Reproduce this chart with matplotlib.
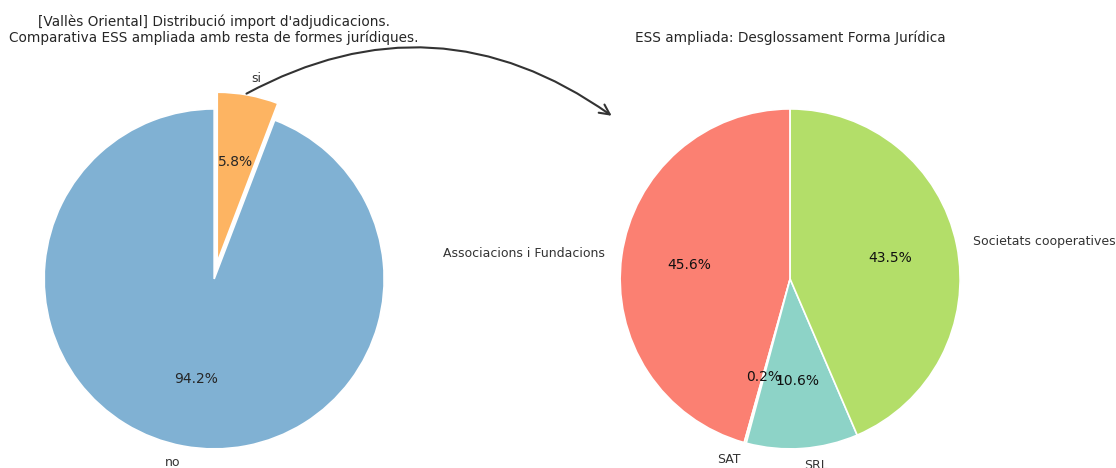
import matplotlib
matplotlib.use('Agg')
import matplotlib.pyplot as plt
from matplotlib.patches import ConnectionPatch

# left pie: ESS ampliada vs rest
ess_labels = ['si', 'no']
ess_values = [5.8, 94.2]
ess_colors = ['#fdb462', '#80b1d3']
ess_explode = [0.1, 0.0]

# right pie: breakdown by legal form
forma_labels = ['Associacions i Fundacions', 'SAT', 'SRL', 'Societats cooperatives']
forma_values = [45.6, 0.2, 10.6, 43.5]
forma_colors = ['#fb8072', '#ffffb3', '#8dd3c7', '#b3de69']

title_left = "[Vallès Oriental] Distribució import d'adjudicacions.\nComparativa ESS ampliada amb resta de formes jurídiques."
title_right = "ESS ampliada: Desglossament Forma Jurídica"

fig = plt.figure(figsize=(11.16, 4.68), dpi=100)
ax1 = fig.add_axes([0.0014, -0.050, 0.381, 0.908])
ax2 = fig.add_axes([0.5175, -0.050, 0.381, 0.908])

wedge_kw = dict(edgecolor='white', linewidth=1.2)
txt_kw = dict(color='#333333', fontsize=9)

_, t1, a1 = ax1.pie(ess_values, labels=ess_labels, colors=ess_colors,
                    explode=ess_explode, autopct='%1.1f%%', startangle=90,
                    counterclock=False, wedgeprops=wedge_kw, textprops=txt_kw)
_, t2, a2 = ax2.pie(forma_values, labels=forma_labels, colors=forma_colors,
                    autopct='%1.1f%%', startangle=90,
                    wedgeprops=wedge_kw, textprops=txt_kw)
for t in list(a1):
    t.set_color('#262626')
    t.set_fontsize(10)
for t in list(a2):
    t.set_color('#111111')
    t.set_fontsize(10)

ax1.set_xlim(-1.25, 1.25)
ax1.set_ylim(-1.25, 1.25)
ax2.set_xlim(-1.25, 1.25)
ax2.set_ylim(-1.25, 1.25)

fig.text(214 / 1116, 1 - 30 / 468, title_left, ha='center', va='center',
         fontsize=9.8, color='#262626', linespacing=1.15)
fig.text(790 / 1116, 1 - 38 / 468, title_right, ha='center', va='center',
         fontsize=9.8, color='#262626')

con = ConnectionPatch(xyA=(0.19, 1.09), coordsA=ax1.transData,
                      xyB=(-1.05, 0.96), coordsB=ax2.transData,
                      arrowstyle='->', mutation_scale=18,
                      connectionstyle='arc3,rad=-0.31',
                      color='#333333', linewidth=1.5)
fig.add_artist(con)

fig.savefig('out.png', dpi=100)
